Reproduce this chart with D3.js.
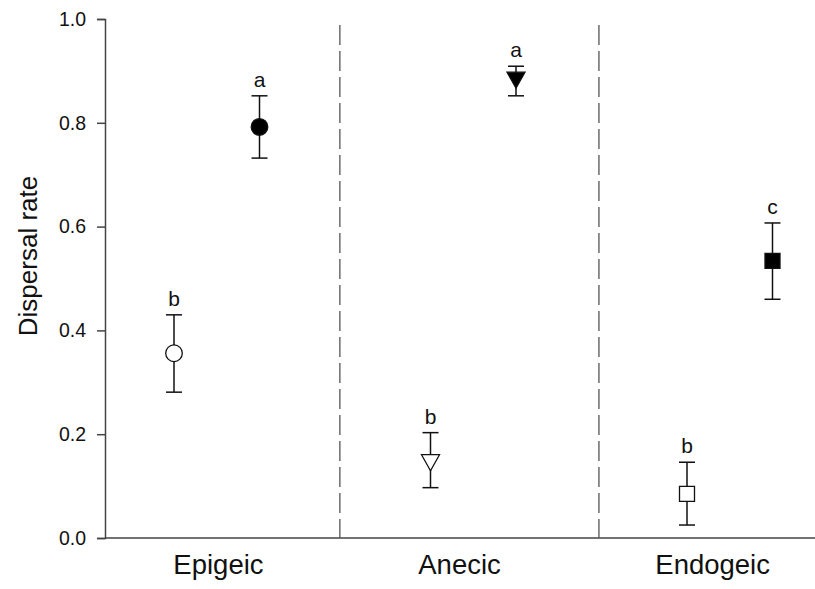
<!DOCTYPE html>
<html>
<head>
<meta charset="utf-8">
<script src="https://cdn.jsdelivr.net/npm/d3@7"></script>
<style>
  body { margin: 0; background: #fff; }
  text { font-family: "Liberation Sans", Arial, sans-serif; fill: #111; }
</style>
</head>
<body>
<svg id="chart"></svg>
<script>
// data
const groups = ["Epigeic", "Anecic", "Endogeic"]
const groupPos = [1.52, 4.34, 7.3]       // where the group names sit on x
const dividerPos = [2.94, 5.97]          // dashed separators
const xPos = [1, 2, 4, 5, 7, 8]
const shapes = ["circle", "circle", "triangle", "triangle", "square", "square"]
const filled = [false, true, false, true, false, true]
const means = [0.356, 0.792, 0.147, 0.884, 0.085, 0.534]
const upper = [0.430, 0.852, 0.203, 0.909, 0.146, 0.607]
const lower = [0.281, 0.732, 0.097, 0.852, 0.025, 0.460]
const letters = ["b", "a", "b", "a", "b", "c"]
const yTicks = [0, 0.2, 0.4, 0.6, 0.8, 1.0]

const width = 815, height = 589
const margin = {top: 19, left: 105, bottom: 51}

const svg = d3.select("#chart")
  .attr("width", width)
  .attr("height", height)

const x = d3.scaleLinear().domain([1, 8]).range([174, 772.5])
const y = d3.scaleLinear().domain([0, 1]).range([height - margin.bottom, margin.top])

const points = xPos.map((p, i) => ({
  x: p, shape: shapes[i], filled: filled[i],
  mean: means[i], hi: upper[i], lo: lower[i], letter: letters[i]
}))

// y axis
const yAxis = svg.append("g")
  .attr("transform", `translate(${margin.left},0)`)
  .call(d3.axisLeft(y).tickValues(yTicks).tickFormat(d3.format(".1f")).tickSize(8).tickPadding(11))
yAxis.select(".domain").attr("stroke", "#444").attr("stroke-width", 1.5)
yAxis.selectAll(".tick line").attr("stroke", "#444").attr("stroke-width", 1.5)
yAxis.selectAll(".tick text")
  .attr("font-size", 19.5)
  .attr("font-family", "Liberation Sans, Arial, sans-serif")
  .attr("fill", "#111")

// x axis line (no ticks)
svg.append("line")
  .attr("x1", margin.left).attr("x2", width)
  .attr("y1", y(0)).attr("y2", y(0))
  .attr("stroke", "#444").attr("stroke-width", 1.5)

// dashed separators
svg.selectAll(".divider")
  .data(dividerPos)
  .enter().append("line")
  .attr("class", "divider")
  .attr("x1", d => x(d)).attr("x2", d => x(d))
  .attr("y1", y(1)).attr("y2", y(0))
  .attr("stroke", "#555")
  .attr("stroke-width", 1.3)
  .attr("stroke-dasharray", "20,6")
  .attr("stroke-dashoffset", 20)

// group names
svg.selectAll(".grp")
  .data(groups)
  .enter().append("text")
  .attr("class", "grp")
  .attr("x", (d, i) => x(groupPos[i]))
  .attr("y", 574)
  .attr("text-anchor", "middle")
  .attr("font-size", 27.5)
  .text(d => d)

// y title
svg.append("text")
  .attr("transform", `translate(37,256) rotate(-90)`)
  .attr("text-anchor", "middle")
  .attr("font-size", 26)
  .text("Dispersal rate")

// error bars
const bars = svg.selectAll(".err")
  .data(points)
  .enter().append("g")
  .attr("class", "err")
  .attr("stroke", "#111")
  .attr("stroke-width", 1.5)

bars.append("line")
  .attr("x1", d => x(d.x)).attr("x2", d => x(d.x))
  .attr("y1", d => y(d.hi)).attr("y2", d => y(d.lo))
bars.append("line")
  .attr("x1", d => x(d.x) - 8).attr("x2", d => x(d.x) + 8)
  .attr("y1", d => y(d.hi)).attr("y2", d => y(d.hi))
bars.append("line")
  .attr("x1", d => x(d.x) - 8).attr("x2", d => x(d.x) + 8)
  .attr("y1", d => y(d.lo)).attr("y2", d => y(d.lo))

// markers
const symbolFor = s => {
  if (s == "circle") return d3.symbol().type(d3.symbolCircle).size(Math.PI * 8.3 * 8.3)()
  if (s == "square") return d3.symbol().type(d3.symbolSquare).size(15 * 15)()
  return "M-9,-7L9,-7L0,9Z"
}

svg.selectAll(".mark")
  .data(points)
  .enter().append("path")
  .attr("class", "mark")
  .attr("transform", d => `translate(${x(d.x)},${y(d.mean)})`)
  .attr("d", d => symbolFor(d.shape))
  .attr("fill", d => d.filled ? "#000" : "#fff")
  .attr("stroke", "#111")
  .attr("stroke-width", 1.3)

// significance letters
svg.selectAll(".letter")
  .data(points)
  .enter().append("text")
  .attr("class", "letter")
  .attr("x", d => x(d.x))
  .attr("y", d => y(d.hi) - 9)
  .attr("text-anchor", "middle")
  .attr("font-size", 21)
  .text(d => d.letter)
</script>
</body>
</html>
